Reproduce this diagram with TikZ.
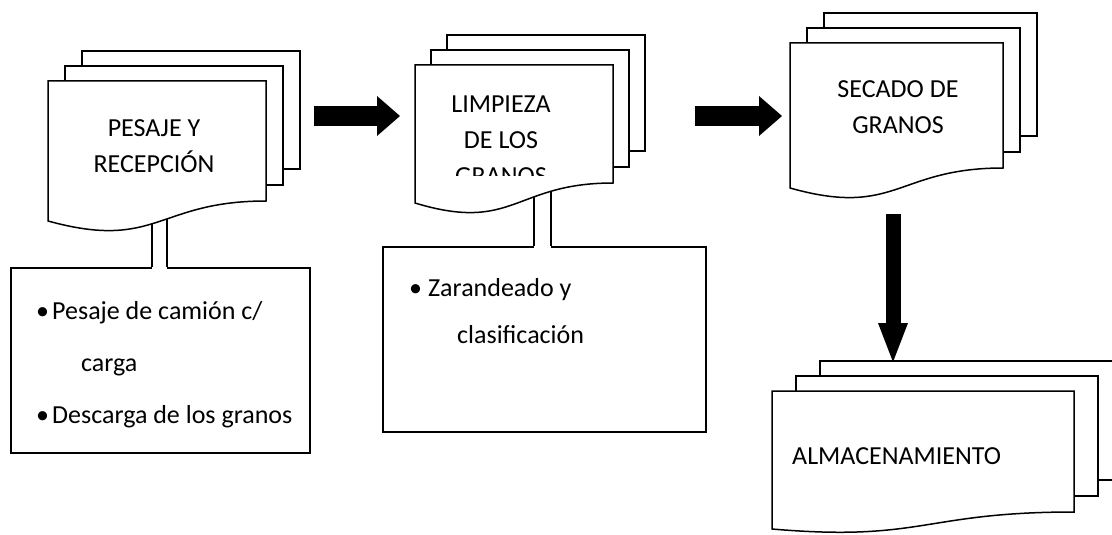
\documentclass[tikz,border=0pt]{standalone}
\usepackage{fontspec}
\setmainfont{Carlito}
\usetikzlibrary{arrows.meta,calc}

% three stacked sheets: left, top, right, right bottom, left bottom, shift, dip
\newcommand{\multidoc}[7]{%
  \draw[sheet] ({#1+2*#6},{#2-30}) rectangle ({#3+2*#6},{#4-32});
  \draw[sheet] ({#1+#6},{#2-15}) rectangle ({#3+#6},{#4-16});
  \draw[sheet] (#1,#2) -- (#3,#2) -- (#3,#4)
    .. controls ({(#1+#3)/2},#4) and ({(#1+#3)/2},#7) .. (#1,#5) -- cycle;
}

\begin{document}
\begin{tikzpicture}[x=1pt,y=-1pt,
    sheet/.style={draw=black,fill=white,line width=1.5pt},
    doctext/.style={font=\fontsize{26}{36}\selectfont,inner sep=0pt,align=center,anchor=base},
    listbox/.style={draw=black,line width=1.5pt,inner sep=0pt,anchor=north west},
    listtext/.style={font=\fontsize{26}{52}\selectfont,inner sep=0pt,align=left,anchor=base west},
    stem/.style={line width=1.5pt},
    blockarrow/.style={line width=20pt,-{Triangle[length=23pt,width=40pt,line width=0pt]}}]
  \fill[white] (0,0) rectangle (1112,535);
  \useasboundingbox (0,0) rectangle (1112,535);

  \node[listbox,minimum width=299pt,minimum height=185pt] (pesajebox) at (10,267) {};
  \node[listbox,minimum width=323pt,minimum height=185pt] (zarandabox) at (382,246) {};

  \coordinate (p1) at (152,190);
  \coordinate (p2) at (167,190);
  \coordinate (z1) at (534,185);
  \coordinate (z2) at (551,185);
  \fill[white] (p1) rectangle ($(p2 |- pesajebox.north)+(0,1.5)$);
  \fill[white] (z1) rectangle ($(z2 |- zarandabox.north)+(0,1.5)$);
  \draw[stem] (p1) -- (p1 |- pesajebox.north);
  \draw[stem] (p2) -- (p2 |- pesajebox.north);
  \draw[stem] (z1) -- (z1 |- zarandabox.north);
  \draw[stem] (z2) -- (z2 |- zarandabox.north);

  \multidoc{48}{81}{266}{201}{221}{17}{251}
  \multidoc{415}{65}{613}{183}{203}{16}{233}
  \multidoc{790}{43}{1003}{168}{188}{17}{218}
  \multidoc{772}{391}{1074}{512}{529}{24}{542}

  \node[doctext] (pesaje) at (154,172) {PESAJE Y\\RECEPCIÓN};
  \begin{scope}
    \clip (415,65) rectangle (613,175);
    \node[doctext] (limpieza) at (501,184) {LIMPIEZA\\DE LOS\\GRANOS};
  \end{scope}
  \node[doctext] (secado) at (898,133) {SECADO DE\\GRANOS};
  \node[doctext,anchor=base west] (almacen) at (792,464) {ALMACENAMIENTO};

  \node[listtext] (pesajelist) at (36,423)
    {\makebox[16pt][l]{•}Pesaje de camión c/\\\hspace*{45pt}carga\\\makebox[16pt][l]{•}Descarga de los granos};
  \node[listtext,font=\fontsize{26}{47}\selectfont] (zarandalist) at (409,343)
    {\makebox[19pt][l]{•}Zarandeado y\\\hspace*{48pt}clasificación};

  \coordinate (r1a) at (314,116);
  \coordinate (r1b) at (400,116);
  \coordinate (r2a) at (695,116);
  \coordinate (r2b) at (782,116);
  \coordinate (d1a) at (893,214);
  \coordinate (d1b) at (893,362);
  \draw[blockarrow] (r1a) -- (r1b);
  \draw[blockarrow] (r2a) -- (r2b);
  \draw[blockarrow,line width=15pt,-{Triangle[length=39pt,width=30pt,line width=0pt]}] (d1a) -- (d1b);
\end{tikzpicture}
\end{document}
